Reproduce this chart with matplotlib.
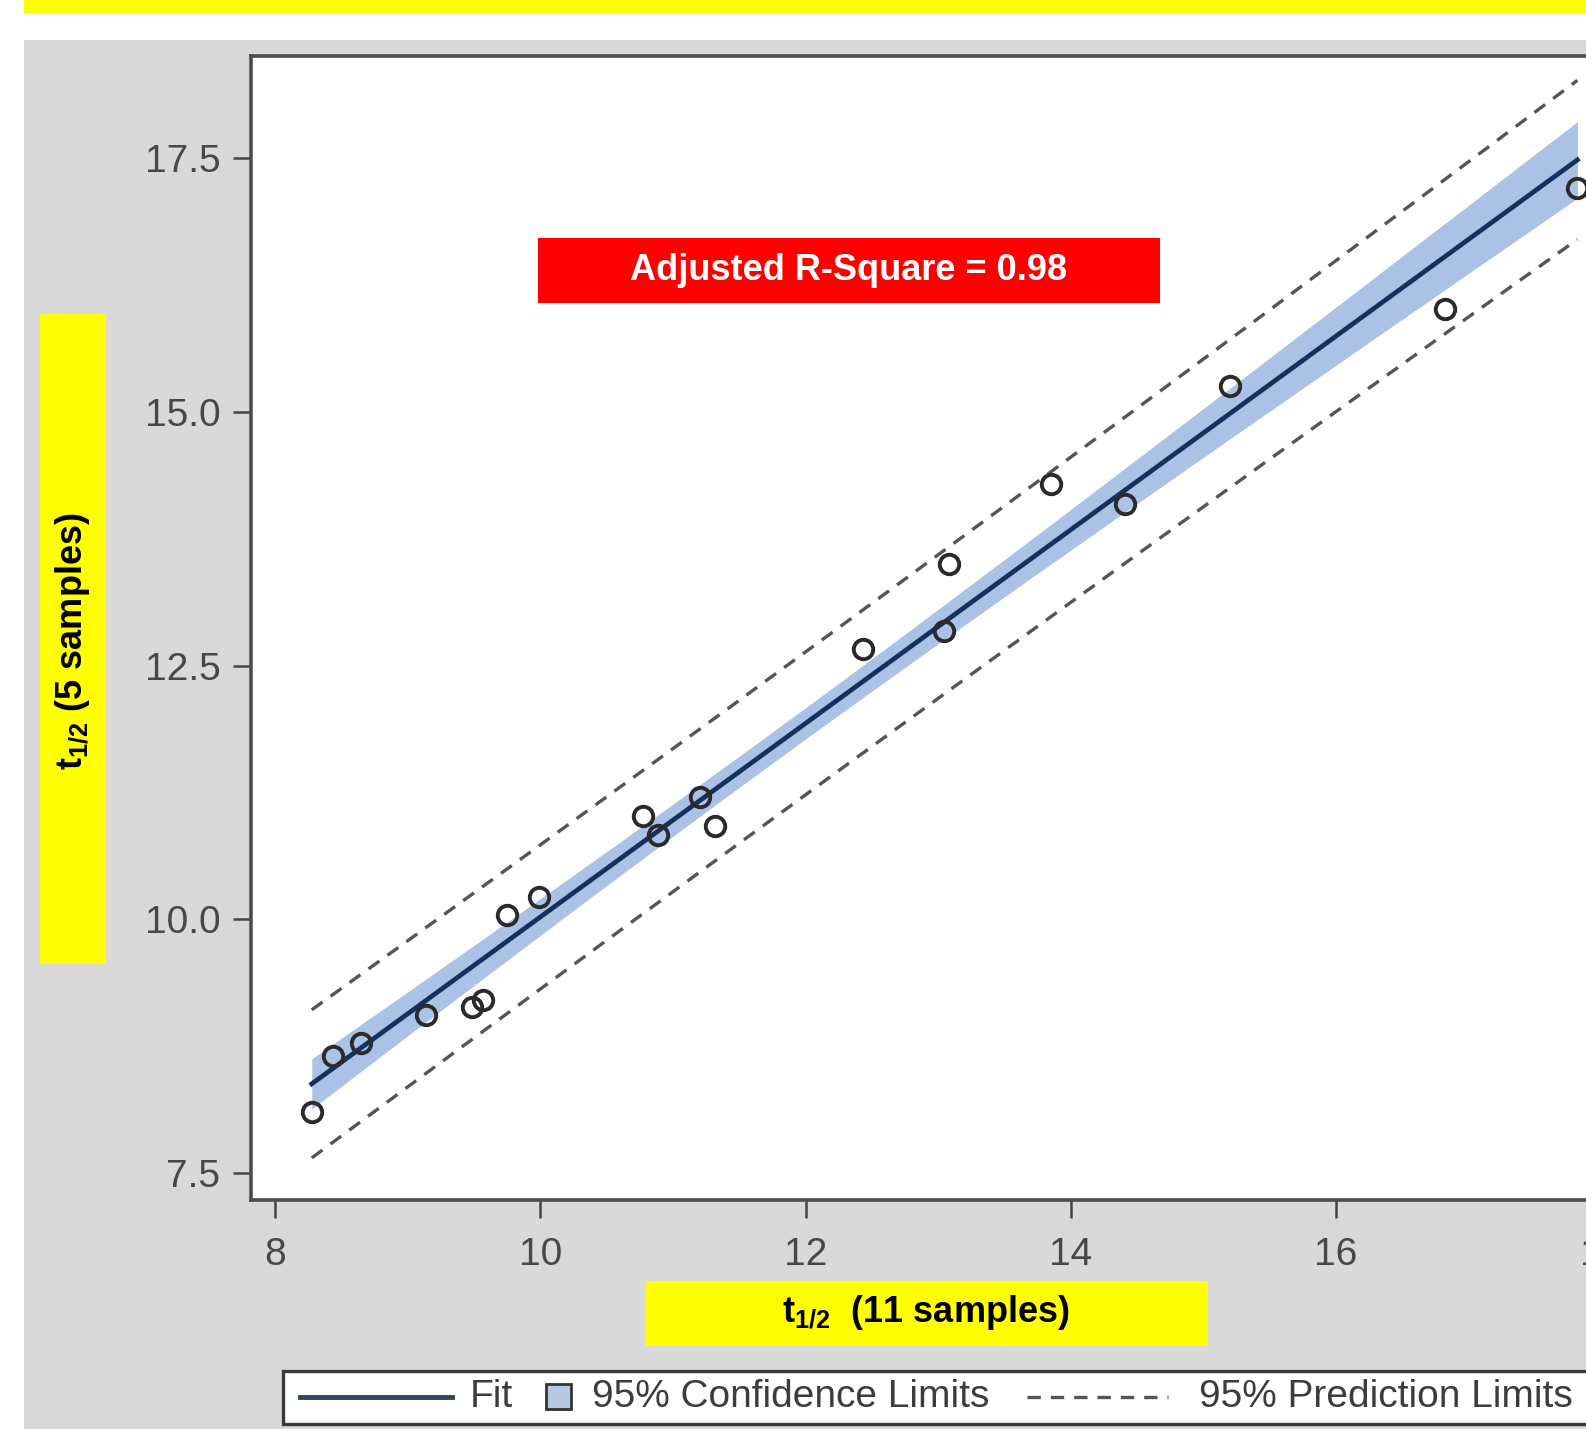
import numpy as np
import matplotlib
matplotlib.use("Agg")
import matplotlib.pyplot as plt
from matplotlib.patches import Rectangle
from matplotlib.lines import Line2D

plt.rcParams['font.family'] = ['Liberation Sans', 'DejaVu Sans']
plt.rcParams['mathtext.fontset'] = 'custom'
plt.rcParams['mathtext.rm'] = 'Liberation Sans'
plt.rcParams['mathtext.bf'] = 'Liberation Sans:bold'

# ---- data ----
x_11 = [8.275, 8.435, 8.65, 9.14, 9.48, 9.565, 9.75, 9.99, 10.77, 10.89,
        11.20, 11.32, 12.435, 13.04, 13.08, 13.85, 14.41, 15.20, 16.82, 17.82]
y_5 = [8.10, 8.65, 8.78, 9.06, 9.14, 9.21, 10.04, 10.22, 11.02, 10.83,
       11.21, 10.92, 12.66, 12.84, 13.50, 14.29, 14.09, 15.26, 16.01, 17.21]
x_ticks = [8, 10, 12, 14, 16, 18]
y_ticks = [7.5, 10.0, 12.5, 15.0, 17.5]
adj_r2_label = "Adjusted R-Square = 0.98"
legend_labels = ["Fit", "95% Confidence Limits", "95% Prediction Limits"]
T_975_18 = 2.1009  # t quantile, 18 df

x = np.array(x_11)
y = np.array(y_5)
n = len(x)
b1, b0 = np.polyfit(x, y, 1)
res = y - (b0 + b1 * x)
s = np.sqrt(np.sum(res**2) / (n - 2))
xbar = x.mean()
sxx = np.sum((x - xbar)**2)
xg = np.linspace(x.min(), x.max(), 200)
yg = b0 + b1 * xg
se_m = s * np.sqrt(1/n + (xg - xbar)**2 / sxx)
se_p = s * np.sqrt(1 + 1/n + (xg - xbar)**2 / sxx)

W, H = 1586, 1429
fig = plt.figure(figsize=(W/100, H/100), dpi=100)
fig.patch.set_facecolor('white')

# background decorations
fig.patches.append(Rectangle((24/W, 0), 1, (H-40)/H, transform=fig.transFigure,
                             facecolor='#d9d9d9', edgecolor='none', zorder=-2))
fig.patches.append(Rectangle((24/W, (H-13)/H), 1, 13/H, transform=fig.transFigure,
                             facecolor='#ffff00', edgecolor='none', zorder=-2))

left, top, bottom = 251, 55.6, 1199.6
xlim = (7.817, 18.4)
pxu = 132.6
ax = fig.add_axes([left/W, (H-bottom)/H, (xlim[1]-xlim[0])*pxu/W, (bottom-top)/H])
ax.set_zorder(1)
ax.set_facecolor('white')
ax.set_xlim(*xlim)
ax.set_ylim(7.24, 18.51)

dash = (0, (4, 3))
ax.fill_between(xg, yg - T_975_18*se_m, yg + T_975_18*se_m, color='#a9c2e6', lw=0, zorder=2)
ax.plot(xg, yg, color='#14305c', lw=3.4, zorder=3)
ax.plot(xg, yg - T_975_18*se_p, color='#555555', lw=2.4, ls=dash, zorder=3)
ax.plot(xg, yg + T_975_18*se_p, color='#555555', lw=2.4, ls=dash, zorder=3)
ax.plot(x, y, 'o', mfc='none', mec='#2a2a2a', ms=14, mew=2.8, zorder=4)

ax.set_xticks(x_ticks)
ax.set_yticks(y_ticks)
ax.set_yticklabels([f"{v:.1f}" for v in y_ticks])
ax.tick_params(axis='both', direction='out', length=13, width=1.8, color='#444444',
               labelsize=28, labelcolor='#474747')
ax.tick_params(axis='x', pad=14)
ax.tick_params(axis='y', pad=9)
for sp in ['left', 'bottom', 'top', 'right']:
    ax.spines[sp].set_color('#4d4d4d')
    ax.spines[sp].set_linewidth(2.6)

# red annotation box
bx0, by0, bx1, by1 = 538, 238, 1160, 303
fig.patches.append(Rectangle((bx0/W, (H-by1)/H), (bx1-bx0)/W, (by1-by0)/H,
                             transform=fig.transFigure, facecolor='#ff0000', edgecolor='none', zorder=5))
fig.text((bx0+bx1)/2/W, (H-(by0+by1)/2)/H, adj_r2_label, color='white', fontsize=26,
         fontweight='bold', ha='center', va='center', zorder=6)

# y label box
fig.patches.append(Rectangle((40/W, (H-964)/H), 66/W, 650/H, transform=fig.transFigure,
                             facecolor='#ffff00', edgecolor='none', zorder=5))
fig.text(73/W, (H-641)/H, r'$\mathbf{t}_{\mathbf{1/2}}$ (5 samples)', rotation=90, fontsize=26,
         fontweight='bold', ha='center', va='center', color='black', zorder=6)

# x label box
fig.patches.append(Rectangle((645/W, (H-1346)/H), 563/W, 65/H, transform=fig.transFigure,
                             facecolor='#ffff00', edgecolor='none', zorder=5))
fig.text(926/W, (H-1313)/H, r'$\mathbf{t}_{\mathbf{1/2}}$  (11 samples)', fontsize=26,
         fontweight='bold', ha='center', va='center', color='black', zorder=6)

# legend
fig.patches.append(Rectangle((283/W, 5/H), 1.2, 53/H, transform=fig.transFigure,
                             facecolor='white', edgecolor='#3a3a3a', lw=2.4, zorder=5))
ly = (H-1397)/H
fig.lines.append(Line2D([300/W, 452/W], [ly, ly], transform=fig.transFigure,
                        color='#2d4560', lw=3.5, zorder=6))
fig.text(470/W, ly, legend_labels[0], fontsize=28, color='#3c3c3c', ha='left', va='center', zorder=6)
fig.patches.append(Rectangle((546/W, (H-1409)/H), 25/W, 25/H, transform=fig.transFigure,
                             facecolor='#b7c8e2', edgecolor='#333333', lw=2, zorder=6))
fig.text(592/W, ly, legend_labels[1], fontsize=28, color='#3c3c3c', ha='left', va='center', zorder=6)
fig.lines.append(Line2D([1027/W, 1168/W], [ly, ly], transform=fig.transFigure,
                        color='#555555', lw=2.4, ls=dash, zorder=6))
fig.text(1199/W, ly, legend_labels[2], fontsize=28, color='#3c3c3c', ha='left', va='center', zorder=6)

fig.savefig('out.png', dpi=100)
